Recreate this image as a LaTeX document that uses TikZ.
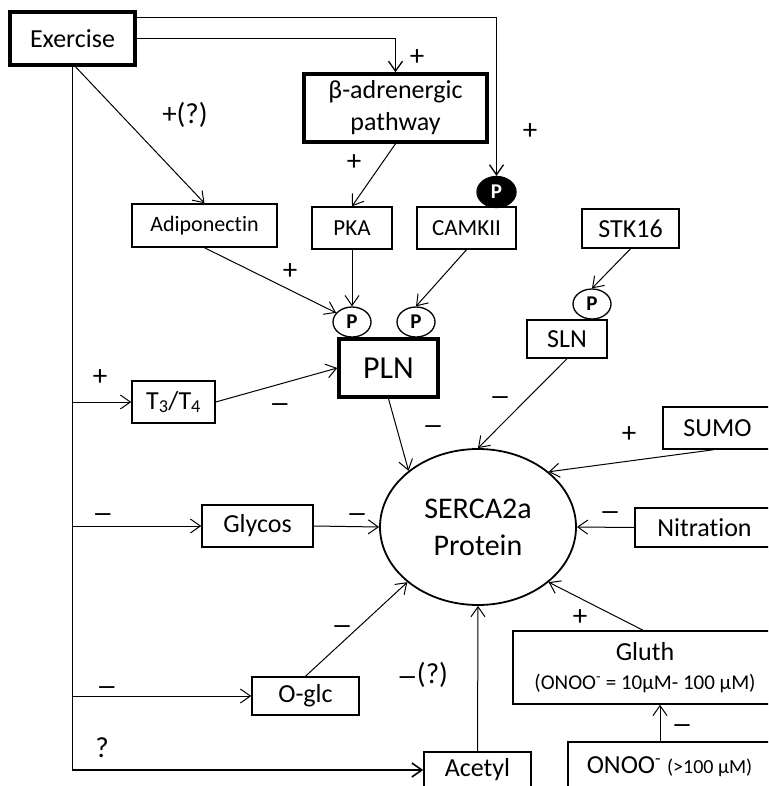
\documentclass[tikz,border=0pt]{standalone}
\usepackage{fontspec}
\setmainfont{Carlito}[Ligatures=NoCommon]
\usetikzlibrary{arrows.meta,shapes.geometric,calc}
\begin{document}
\begin{tikzpicture}[x=1pt,y=-1pt,
  box/.style={draw, line width=1.5pt, inner sep=0pt, font=\fontsize{26}{30}\selectfont},
  thickbox/.style={box, line width=3.5pt},
  smallbox/.style={box, font=\fontsize{23}{27}\selectfont},
  pcirc/.style={draw, ellipse, line width=1.3pt, inner sep=0pt, minimum width=38pt, minimum height=30pt, font=\fontsize{21}{21}\bfseries\selectfont},
  arr/.style={line width=1pt, -{Straight Barb[length=10pt,width=14pt]}},
  sign/.style={font=\fontsize{29}{32}\selectfont, inner sep=0pt},
  msign/.style={font=\fontsize{21}{21}\bfseries\selectfont, inner sep=0pt, anchor=base},
  ]
\useasboundingbox (0,0) rectangle (768,786);
\clip (0,0) rectangle (768,786);
\fill[white] (0,0) rectangle (768,786);

% nodes
\node[thickbox, minimum width=125pt, minimum height=53pt] (ex) at (72.5,38.5) {Exercise};
\node[thickbox, minimum width=183pt, minimum height=68pt, align=center, font=\fontsize{26}{32}\selectfont] (beta) at (395.5,108) {β-adrenergic\\pathway};
\node[smallbox, minimum width=145pt, minimum height=43pt, font=\fontsize{22}{26}\selectfont] (adipo) at (204.5,225.5) {Adiponectin};
\node[smallbox, minimum width=80pt, minimum height=42pt] (pka) at (352,228) {PKA};
\node[smallbox, minimum width=99pt, minimum height=42pt] (camk) at (466.5,228) {CAMKII};
\node[box, minimum width=97pt, minimum height=39pt] (stk) at (630.5,228.5) {STK16};
\node[pcirc, fill=black, text=white, minimum width=39pt, minimum height=31pt] (bp) at (496.5,192) {P};
\node[pcirc] (ps) at (592,304) {P};
\node[box, minimum width=80pt, minimum height=38pt] (sln) at (567,339) {SLN};
\node[pcirc] (pl) at (352,322) {P};
\node[pcirc] (pr) at (416,322) {P};
\node[thickbox, minimum width=99pt, minimum height=58pt, font=\fontsize{32}{36}\selectfont] (pln) at (388.5,368) {PLN};
\node[box, minimum width=83pt, minimum height=42pt] (t34) at (173.5,402) {T\textsubscript{3}/T\textsubscript{4}};
\node[box, minimum width=111pt, minimum height=42pt] (glyc) at (257.5,526) {Glycos};
\node[box, minimum width=107pt, minimum height=38pt] (oglc) at (305.5,696) {O-glc};
\node[box, minimum width=107pt, minimum height=36pt] (acet) at (477.5,770) {Acetyl};
\node[draw, ellipse, line width=1.8pt, minimum width=196pt, minimum height=156pt, inner sep=0pt, align=center, font=\fontsize{30}{37}\selectfont] (serca) at (478,527) {SERCA2a\\Protein};
\node[box, minimum width=109pt, minimum height=42pt] (sumo) at (717.5,428) {SUMO};
\node[box, minimum width=139pt, minimum height=39pt] (nitr) at (704.5,527.5) {Nitration};
\node[box, minimum width=264pt, minimum height=73pt, align=center, font=\fontsize{26}{28}\selectfont] (gluth) at (645,667.5) {Gluth\\[1pt]{\fontsize{21}{24}\selectfont (ONOO\textsuperscript{-} = 10μM- 100 μM)}};
\node[box, minimum width=203pt, minimum height=50pt] (onoo) at (669.5,767) {ONOO\textsuperscript{-} {\fontsize{20}{24}\selectfont (>100 μM)}};

% connectors
\draw[arr, line width=1.3pt] ($(ex.north east)+(0,7)$) -| (bp.north);
\draw[arr, line width=1.3pt] (ex.east) -| (beta.north);
\draw[arr] ($(ex.south)+(3,0)$) -- (adipo.north);
\draw[arr, line width=1.6pt] (ex.south) |- (acet.west);
\draw[arr] (ex.south |- t34.west) -- (t34.west);
\draw[arr] (ex.south |- glyc.west) -- (glyc.west);
\draw[arr] (ex.south |- oglc.west) -- (oglc.west);
\draw[arr] (beta.south) -- (pka.north);
\draw[arr] (adipo.south) -- (pl.150);
\draw[arr] (pka.south) -- (pl.north);
\draw[arr] (camk.south) -- (pr.north);
\draw[arr] (stk.south) -- (ps.north);
\draw[arr] (t34.east) -- (pln.west);
\draw[arr] (pln.south) -- (serca.141);
\draw[arr] (sln.south) -- (serca.north);
\draw[arr] ($(sumo.south)+(-4,0)$) -- (serca.38);
\draw[arr] (nitr.west) -- (serca.east);
\draw[arr] (glyc.east) -- (serca.west);
\draw[arr] (oglc.north) -- (serca.218);
\draw[arr] (acet.north) -- (serca.south);
\draw[arr] ($(gluth.north)+(-2,0)$) -- (serca.-38);
\coordinate (oq) at ($(onoo.north)+(-9.5,0)$);
\draw[arr] (oq) -- (oq |- gluth.south);

% signs
\node[sign] (s1) at (417,58) {+};
\node[sign] (s2) at (185,115) {+(?)};
\node[sign] (s3) at (530,132) {+};
\node[sign] (s4) at (354,163) {+};
\node[sign] (s5) at (290,272) {+};
\node[sign] (s6) at (100,378) {+};
\node[sign] (s7) at (629,435) {+};
\node[sign] (s8) at (580,618) {+};
\node[sign] (s9) at (102,748) {?};
\node[sign] (s10) at (423,675) {{\fontsize{21}{21}\bfseries\selectfont —}(?)};
\node[msign] (m1) at (280,410) {—};
\node[msign] (m2) at (500,403) {—};
\node[msign] (m3) at (433,432) {—};
\node[msign] (m4) at (610,518) {—};
\node[msign] (m5) at (103,520) {—};
\node[msign] (m6) at (357,520) {—};
\node[msign] (m7) at (342,632) {—};
\node[msign] (m8) at (107,693) {—};
\node[msign] (m9) at (682,731) {—};
\end{tikzpicture}
\end{document}
